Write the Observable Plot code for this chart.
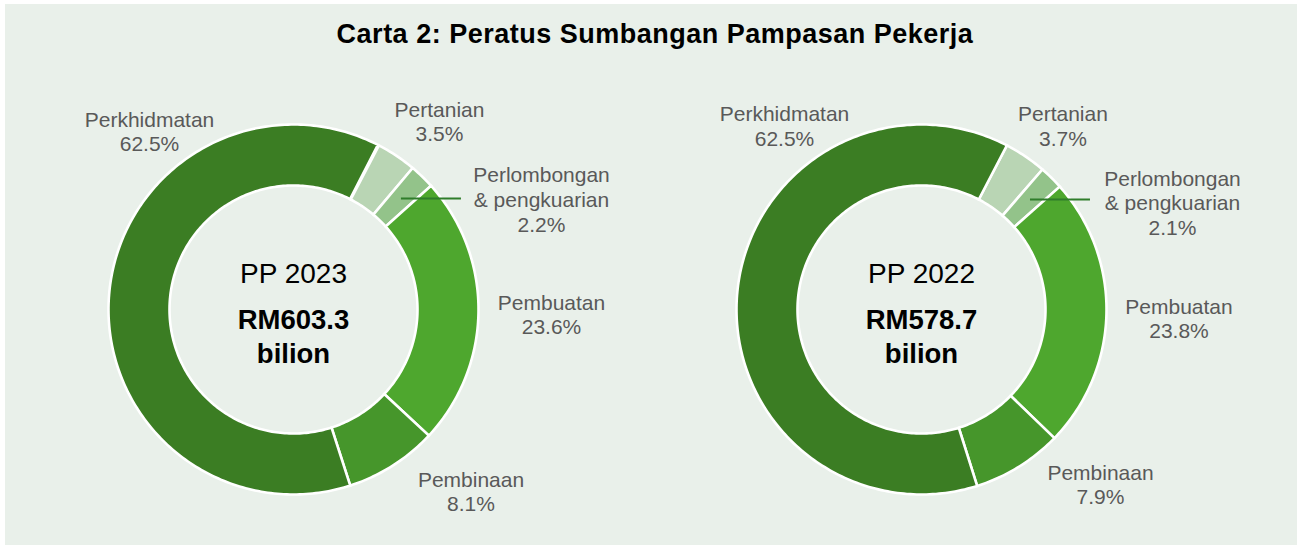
<!DOCTYPE html>
<html><head><meta charset="utf-8">
<script src="https://cdn.jsdelivr.net/npm/d3@7"></script>
<script src="https://cdn.jsdelivr.net/npm/@observablehq/plot@0.6"></script>
<style>
html,body{margin:0;padding:0;background:#fff;}
#panel{position:absolute;left:5px;top:4px;width:1292px;height:541px;background:#e9f0ea;overflow:hidden;font-family:"Liberation Sans",Arial,sans-serif;}
#title{position:absolute;top:15px;left:4px;width:1292px;text-align:center;font-size:27px;font-weight:bold;line-height:30px;letter-spacing:0.5px;color:#000;}
#chart{position:absolute;left:0;top:60px;}
</style></head><body>
<div id="panel"><div id="title">Carta 2: Peratus Sumbangan Pampasan Pekerja</div><div id="chart"></div></div>
<script>
// ---- data ----
const years = ["PP 2023", "PP 2022"];
const sectors = ["Pertanian", "Perlombongan & pengkuarian", "Pembuatan", "Pembinaan", "Perkhidmatan"];
const sectorLabels = ["Pertanian", "Perlombongan\n& pengkuarian", "Pembuatan", "Pembinaan", "Perkhidmatan"];
const share2023 = [3.5, 2.2, 23.6, 8.1, 62.5];
const share2022 = [3.7, 2.1, 23.8, 7.9, 62.5];
const totals = ["RM603.3", "RM578.7"];
const totalUnit = "bilion";
const sectorColors = ["#b9d5b4", "#93c38a", "#4ea72e", "#46962b", "#3b7d23"];

// ---- layout ----
const W = 1292, H = 481;
const facetW = 628;           // width of each donut panel
const cx = 288, cy = 245;     // donut centre inside a panel (px)
const R = 185, r0 = 124;      // outer / inner radius
const startAngle = 27.5;      // first slice angle (deg, clockwise from top)
const labelFont = 21, labelLH = 1.19;
// label placement: first-line baseline offset from the donut centre (px, right / down)
const labelOffsets = {
  "PP 2023": [[146, -193], [248, -127.3], [258, 0], [177.5, 177], [-144, -183]],
  "PP 2022": [[141.4, -188.3], [251, -124], [257.5, 4], [179, 170], [-137, -188.3]]
};

const shares = [share2023, share2022];
const rad = d => d * Math.PI / 180;
const ring = [], labels = [], leaders = [], centre = [];
years.forEach((year, yi) => {
  let cum = 0;
  sectors.forEach((s, si) => {
    const v = shares[yi][si];
    const a0 = startAngle + cum * 3.6, a1 = startAngle + (cum + v) * 3.6;
    cum += v;
    const n = Math.max(2, Math.ceil(a1 - a0));
    for (let k = 0; k <= n; k++) {
      const a = rad(a0 + (a1 - a0) * k / n);
      ring.push({year, sector: s, id: year + "|" + s, x: R * Math.sin(a), y: R * Math.cos(a)});
    }
    for (let k = n; k >= 0; k--) {
      const a = rad(a0 + (a1 - a0) * k / n);
      ring.push({year, sector: s, id: year + "|" + s, x: r0 * Math.sin(a), y: r0 * Math.cos(a)});
    }
    const text = sectorLabels[si] + "\n" + v.toFixed(1) + "%";
    const nl = text.split("\n").length;
    const [ox, oy] = labelOffsets[year][si];
    labels.push({year, text, x: ox, y: -(oy + (nl - 1) * labelLH * labelFont)});
    if (si === 1) {
      const am = rad((a0 + a1) / 2), rm = (R + r0) / 2;
      const x1 = rm * Math.sin(am), y1 = rm * Math.cos(am);
      leaders.push({year, x1, y1, x2: x1 + 60, y2: y1});
    }
  });
  centre.push({year, title: year, total: totals[yi] + "\n" + totalUnit});
});

const font = "'Liberation Sans', Arial, sans-serif";
const chart = Plot.plot({
  width: W, height: H,
  marginTop: 0, marginBottom: 0, marginLeft: 0, marginRight: W - 2 * facetW,
  fx: {domain: years, padding: 0, axis: null, label: null},
  x: {domain: [-cx, facetW - cx], axis: null},
  y: {domain: [-(H - cy), cy], axis: null},
  color: {domain: sectors, range: sectorColors},
  style: {background: "transparent", fontFamily: font},
  marks: [
    Plot.line(ring, {fx: "year", x: "x", y: "y", z: "id", fill: "sector", stroke: "white", strokeWidth: 2.6, curve: "linear-closed", strokeLinejoin: "miter", strokeMiterlimit: 4}),
    Plot.link(leaders, {fx: "year", x1: "x1", y1: "y1", x2: "x2", y2: "y2", stroke: "#2f7d2a", strokeWidth: 2}),
    Plot.text(labels, {fx: "year", x: "x", y: "y", text: "text", fill: "#595959", fontSize: labelFont, lineHeight: labelLH, lineAnchor: "bottom", textAnchor: "middle", fontFamily: font}),
    Plot.text(centre, {fx: "year", x: () => 0, y: () => 27, text: "title", fill: "#000", fontSize: 28, lineAnchor: "bottom", fontFamily: font}),
    Plot.text(centre, {fx: "year", x: () => 0, y: () => -53, text: "total", fill: "#000", fontSize: 27.5, fontWeight: "bold", lineHeight: 1.236, lineAnchor: "bottom", fontFamily: font})
  ]
});
document.getElementById("chart").appendChild(chart);
</script>
</body></html>
